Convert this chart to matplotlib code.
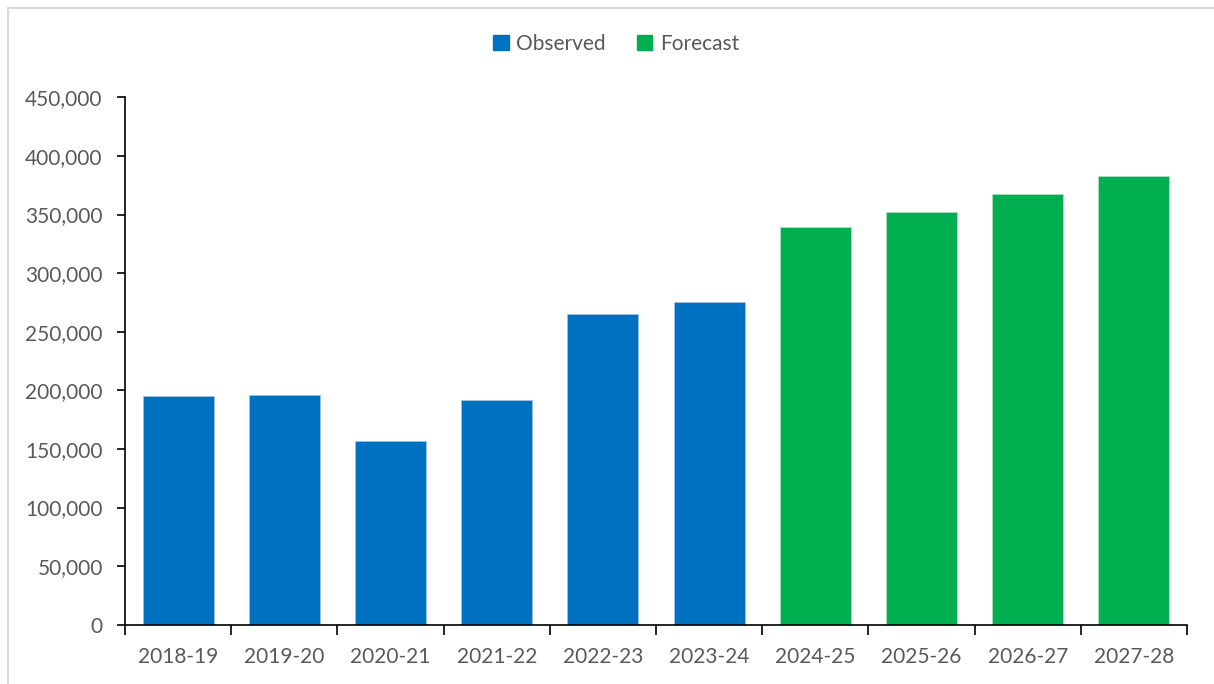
import matplotlib.pyplot as plt
from matplotlib.patches import Rectangle, Patch
from matplotlib.ticker import FuncFormatter, MultipleLocator

# annual totals, observed then forecast
years = ['2018-19', '2019-20', '2020-21', '2021-22', '2022-23',
         '2023-24', '2024-25', '2025-26', '2026-27', '2027-28']
observed = [195100, 196000, 156600, 191600, 265400, 275600]
forecast = [339100, 352400, 367800, 382800]

blue = '#0070c0'
green = '#00b050'
grey = '#595959'

plt.rcParams['font.family'] = ['Lato', 'DejaVu Sans']

W, H = 1214, 684
fig = plt.figure(figsize=(W / 100, H / 100), dpi=100)
ax = fig.add_axes([125 / W, (H - 624.7) / H, (1187 - 125) / W, (624.7 - 97.3) / H])

n_obs = len(observed)
x_obs = list(range(n_obs))
x_fc = list(range(n_obs, len(years)))
ax.bar(x_obs, observed, width=0.667, color=blue, edgecolor='#9dc3e6', linewidth=0.6)
ax.bar(x_fc, forecast, width=0.667, color=green, edgecolor='#a9e0bd', linewidth=0.6)

ax.set_xlim(-0.5, len(years) - 0.5)
ax.set_ylim(0, 450000)
ax.yaxis.set_major_locator(MultipleLocator(50000))
ax.yaxis.set_major_formatter(FuncFormatter(lambda v, p: f'{int(v):,}'))

# category labels centred, ticks on the boundaries
ax.set_xticks(range(len(years)))
ax.set_xticklabels(years)
ax.set_xticks([i - 0.5 for i in range(len(years) + 1)], minor=True)
ax.tick_params(axis='x', which='major', length=0, pad=16, labelsize=15, labelcolor=grey)
ax.tick_params(axis='x', which='minor', length=7, width=1.2, color='black', direction='out')
ax.tick_params(axis='y', length=6, width=1.2, color='black', direction='out',
               pad=10, labelsize=15, labelcolor=grey)

for side in ['top', 'right']:
    ax.spines[side].set_visible(False)
for side in ['left', 'bottom']:
    ax.spines[side].set_linewidth(1.2)

handles = [Patch(color=blue, label='Observed'), Patch(color=green, label='Forecast')]
leg = fig.legend(handles=handles, loc='center', bbox_to_anchor=(616 / W, 1 - 44 / H),
                 ncol=2, frameon=False, fontsize=15, handlelength=0.75, handleheight=0.75,
                 handletextpad=0.35, columnspacing=1.5)
for t in leg.get_texts():
    t.set_color(grey)

# light chart-area border
fig.patches.append(Rectangle((7.5 / W, -0.1), 1.2, 1.1 - 7.5 / H,
                             transform=fig.transFigure, fill=False,
                             edgecolor='#d9d9d9', linewidth=1.5))

fig.savefig('out.png', dpi=100)
